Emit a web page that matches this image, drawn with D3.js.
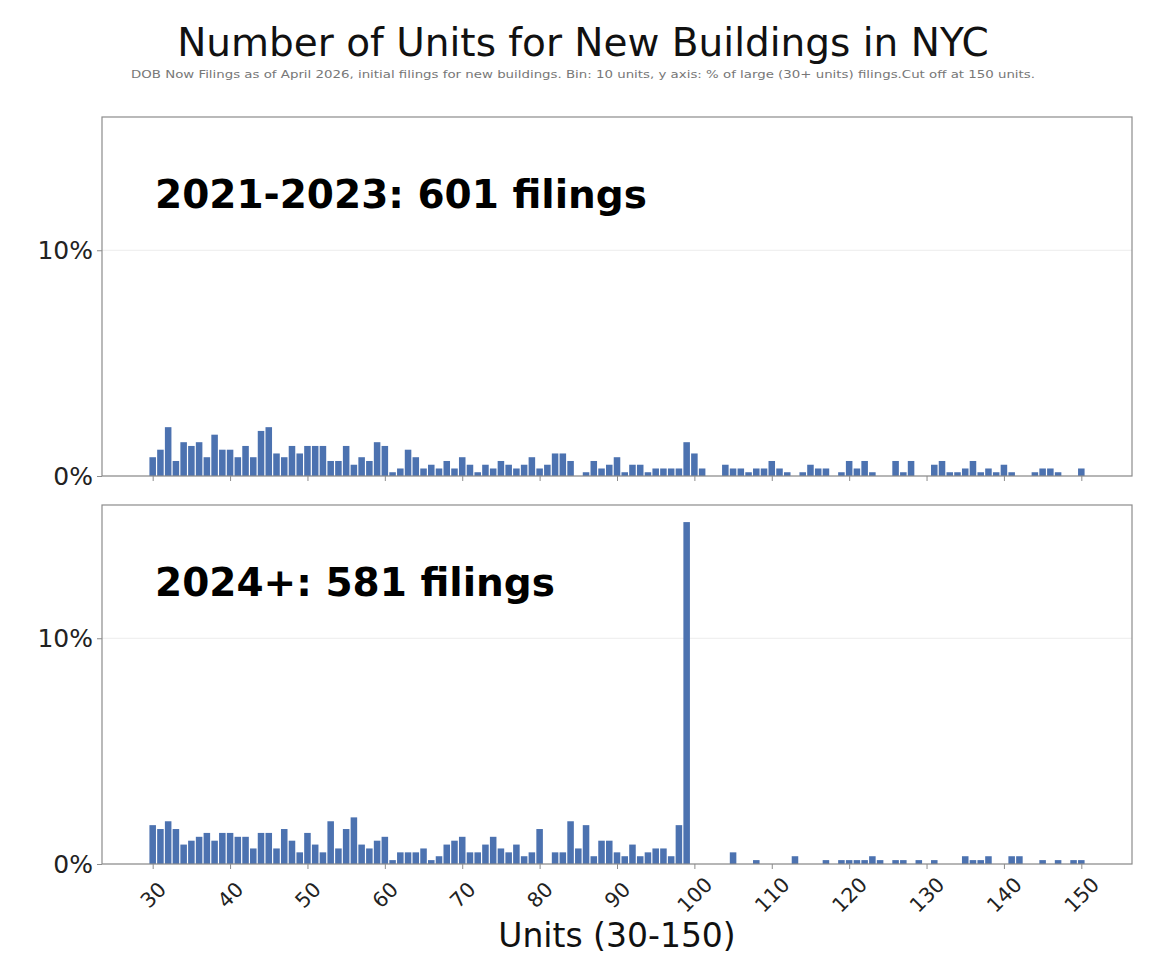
<!DOCTYPE html>
<html>
<head>
<meta charset="utf-8">
<script src="https://cdn.jsdelivr.net/npm/d3@7"></script>
<style>
    body { margin: 0; background: #fff; }
    svg text { font-family: "DejaVu Sans", sans-serif; }
</style>
</head>
<body>
<svg id="chart" width="1174" height="976"></svg>
<script>
// Units per building, one bar per unit count (30 .. 150)
var units = d3.range(30, 151);

// Number of filings per unit count
var counts2021 = [
    5, 7, 13, 4, 9, 8, 9, 5, 11, 7,
    7, 5, 8, 5, 12, 13, 6, 5, 8, 6,
    8, 8, 8, 4, 4, 8, 3, 5, 4, 9,
    8, 1, 2, 7, 5, 2, 3, 2, 4, 2,
    5, 3, 1, 3, 2, 4, 3, 2, 3, 5,
    2, 3, 6, 6, 4, 0, 1, 4, 2, 3,
    5, 1, 3, 3, 1, 2, 2, 2, 2, 9,
    6, 2, 0, 0, 3, 2, 2, 1, 2, 2,
    4, 2, 1, 0, 1, 3, 2, 2, 0, 1,
    4, 2, 4, 1, 0, 0, 4, 1, 4, 0,
    0, 3, 4, 1, 1, 2, 4, 1, 2, 1,
    3, 1, 0, 0, 1, 2, 2, 1, 0, 0,
    2
];
var counts2024 = [
    10, 9, 11, 9, 5, 6, 7, 8, 6, 8,
    8, 7, 7, 4, 8, 8, 4, 9, 6, 3,
    8, 5, 3, 11, 4, 9, 12, 5, 4, 6,
    7, 1, 3, 3, 3, 4, 1, 2, 5, 6,
    7, 3, 3, 5, 7, 4, 3, 5, 2, 3,
    9, 0, 3, 3, 11, 4, 10, 2, 6, 6,
    3, 2, 5, 2, 3, 4, 4, 2, 10, 88,
    0, 0, 0, 0, 0, 3, 0, 0, 1, 0,
    0, 0, 0, 2, 0, 0, 0, 1, 0, 1,
    1, 1, 1, 2, 1, 0, 1, 1, 0, 1,
    0, 1, 0, 0, 0, 2, 1, 1, 2, 0,
    0, 2, 2, 0, 0, 1, 0, 1, 0, 1,
    1
];

var panelLabels = ["2021-2023: 601 filings", "2024+: 581 filings"];
var panelTotals = [601, 581];
var xTicks = [30, 40, 50, 60, 70, 80, 90, 100, 110, 120, 130, 140, 150];
var yTicks = [0, 10];

var barColor = "#4c72b0";
var spineColor = "#8c8c8c";

var svg = d3.select("#chart");
var left = 102, right = 1132;
var panels = [
    { top: 117, bottom: 476, counts: counts2021 },
    { top: 505, bottom: 864, counts: counts2024 }
];

// matplotlib style: 5% margin on both axes
var x = d3.scaleLinear().domain([23.45, 156.55]).range([left, right]);
var yMax = d3.max(counts2024) / panelTotals[1] * 100 * 1.05;
var bw = x(1) - x(0);

svg.append("text")
    .attr("x", 583)
    .attr("y", 56)
    .attr("text-anchor", "middle")
    .attr("font-size", 39)
    .attr("fill", "#111")
    .text("Number of Units for New Buildings in NYC");

svg.append("text")
    .attr("x", 131)
    .attr("y", 78)
    .attr("font-size", 10.5)
    .attr("fill", "#777")
    .attr("textLength", 904)
    .attr("lengthAdjust", "spacingAndGlyphs")
    .text("DOB Now Filings as of April 2026, initial filings for new buildings. Bin: 10 units, y axis: % of large (30+ units) filings.Cut off at 150 units.");

panels.forEach(function (p, i) {
    var y = d3.scaleLinear().domain([0, yMax]).range([p.bottom, p.top]);
    var g = svg.append("g").attr("class", "panel");
    var data = units.map(function (u, j) {
        return { unit: u, pct: p.counts[j] / panelTotals[i] * 100 };
    });

    // faint horizontal grid
    g.selectAll("line.grid")
        .data(yTicks)
        .enter().append("line")
        .attr("class", "grid")
        .attr("x1", left).attr("x2", right)
        .attr("y1", function (d) { return y(d); })
        .attr("y2", function (d) { return y(d); })
        .attr("stroke", "#ececec");

    g.selectAll("rect.bar")
        .data(data.filter(function (d) { return d.pct > 0; }))
        .enter().append("rect")
        .attr("class", "bar")
        .attr("x", function (d) { return x(d.unit) - bw / 2 + 0.6; })
        .attr("width", bw - 1.2)
        .attr("y", function (d) { return y(d.pct); })
        .attr("height", function (d) { return p.bottom - y(d.pct); })
        .attr("fill", barColor);

    var xAxis = d3.axisBottom(x)
        .tickValues(xTicks)
        .tickSize(5)
        .tickFormat(i === 1 ? d3.format("d") : "");
    var ax = g.append("g")
        .attr("transform", "translate(0," + p.bottom + ")")
        .call(xAxis);
    ax.select(".domain").remove();
    ax.selectAll(".tick line").attr("stroke", spineColor);
    if (i === 1) {
        ax.selectAll(".tick text")
            .attr("font-size", 20.5)
            .attr("fill", "#222")
            .attr("y", 0)
            .attr("dy", 0)
            .attr("text-anchor", "middle")
            .attr("dominant-baseline", "central")
            .attr("transform", "translate(0,31) rotate(-45)");
    }

    var yAxis = d3.axisLeft(y)
        .tickValues(yTicks)
        .tickSize(5)
        .tickPadding(4)
        .tickFormat(function (d) { return d + "%"; });
    var ay = g.append("g")
        .attr("transform", "translate(" + left + ",0)")
        .call(yAxis);
    ay.select(".domain").remove();
    ay.selectAll(".tick line").attr("stroke", spineColor);
    ay.selectAll(".tick text")
        .attr("font-size", 25)
        .attr("fill", "#222");

    g.append("rect")
        .attr("x", left)
        .attr("y", p.top)
        .attr("width", right - left)
        .attr("height", p.bottom - p.top)
        .attr("fill", "none")
        .attr("stroke", spineColor)
        .attr("stroke-width", 1.2);

    g.append("text")
        .attr("x", 155)
        .attr("y", p.top + 91)
        .attr("font-size", 39)
        .attr("font-weight", "bold")
        .attr("fill", "#000")
        .text(panelLabels[i]);
});

svg.append("text")
    .attr("x", (left + right) / 2)
    .attr("y", 947)
    .attr("text-anchor", "middle")
    .attr("font-size", 33)
    .attr("fill", "#111")
    .text("Units (30-150)");
</script>
</body>
</html>
